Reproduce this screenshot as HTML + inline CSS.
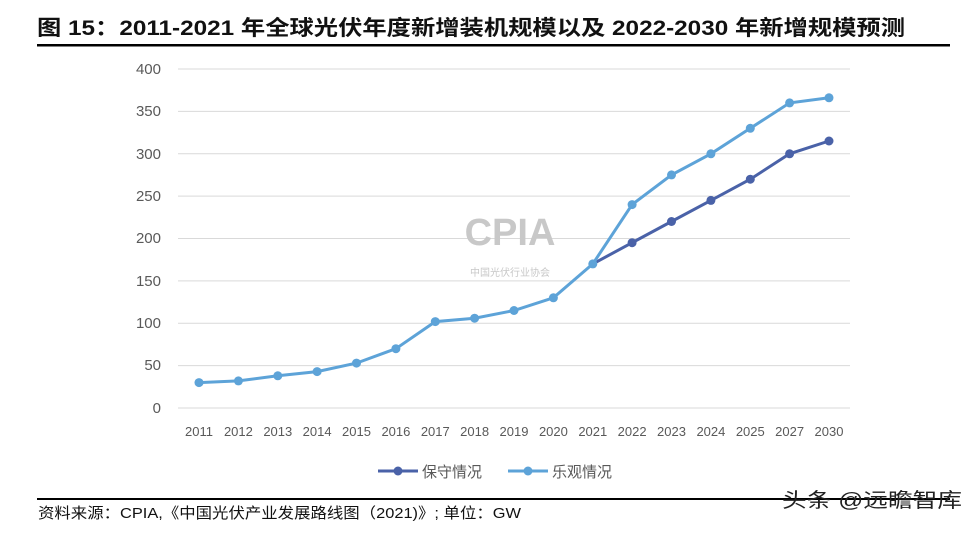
<!DOCTYPE html><html><head><meta charset="utf-8"><style>body{margin:0;background:#fff;width:975px;height:530px;overflow:hidden;font-family:"Liberation Sans","Noto Sans CJK SC",sans-serif}</style></head><body>
<svg width="975" height="530" xmlns="http://www.w3.org/2000/svg" font-family="Liberation Sans, Noto Sans CJK SC, sans-serif">
<text x="37" y="35" font-size="21" font-weight="bold" fill="#111" textLength="868" lengthAdjust="spacingAndGlyphs">图 15：2011-2021 年全球光伏年度新增装机规模以及  2022-2030  年新增规模预测</text>
<rect x="37" y="44" width="913" height="2.5" fill="#000"/>
<g stroke="#d9d9d9" stroke-width="1">
<line x1="178" x2="850" y1="69" y2="69"/><line x1="178" x2="850" y1="111.4" y2="111.4"/><line x1="178" x2="850" y1="153.8" y2="153.8"/><line x1="178" x2="850" y1="196.1" y2="196.1"/><line x1="178" x2="850" y1="238.5" y2="238.5"/><line x1="178" x2="850" y1="280.9" y2="280.9"/><line x1="178" x2="850" y1="323.3" y2="323.3"/><line x1="178" x2="850" y1="365.6" y2="365.6"/><line x1="178" x2="850" y1="408" y2="408"/>
</g>
<g font-size="15" fill="#595959" text-anchor="end">
<text x="161" y="74">400</text><text x="161" y="116">350</text><text x="161" y="159">300</text><text x="161" y="201">250</text><text x="161" y="243">200</text><text x="161" y="286">150</text><text x="161" y="328">100</text><text x="161" y="370">50</text><text x="161" y="413">0</text>
</g>
<g font-size="13" fill="#595959" text-anchor="middle">
<text x="199" y="436">2011</text><text x="238.4" y="436">2012</text><text x="277.8" y="436">2013</text><text x="317.1" y="436">2014</text><text x="356.5" y="436">2015</text><text x="395.9" y="436">2016</text><text x="435.3" y="436">2017</text><text x="474.6" y="436">2018</text><text x="514" y="436">2019</text><text x="553.4" y="436">2020</text><text x="592.8" y="436">2021</text><text x="632.1" y="436">2022</text><text x="671.5" y="436">2023</text><text x="710.9" y="436">2024</text><text x="750.3" y="436">2025</text><text x="789.6" y="436">2027</text><text x="829" y="436">2030</text>
</g>
<text x="510" y="245" font-size="38" font-weight="bold" fill="#c8c8c8" text-anchor="middle">CPIA</text>
<text x="510" y="276" font-size="10" fill="#c8c8c8" text-anchor="middle">中国光伏行业协会</text>
<polyline fill="none" stroke="#4a62a8" stroke-width="3" points="592.8,263.9 632.1,242.7 671.5,221.5 710.9,200.4 750.3,179.2 789.6,153.8 829,141.0"/>
<g fill="#4a62a8"><circle cx="632.1" cy="242.7" r="4.5"/><circle cx="671.5" cy="221.5" r="4.5"/><circle cx="710.9" cy="200.4" r="4.5"/><circle cx="750.3" cy="179.2" r="4.5"/><circle cx="789.6" cy="153.8" r="4.5"/><circle cx="829" cy="141.0" r="4.5"/></g>
<polyline fill="none" stroke="#5da3d8" stroke-width="3" points="199,382.6 238.4,380.9 277.8,375.8 317.1,371.6 356.5,363.1 395.9,348.7 435.3,321.6 474.6,318.2 514,310.5 553.4,297.8 592.8,263.9 632.1,204.6 671.5,174.9 710.9,153.8 750.3,128.3 789.6,102.9 829,97.8"/>
<g fill="#5da3d8"><circle cx="199" cy="382.6" r="4.5"/><circle cx="238.4" cy="380.9" r="4.5"/><circle cx="277.8" cy="375.8" r="4.5"/><circle cx="317.1" cy="371.6" r="4.5"/><circle cx="356.5" cy="363.1" r="4.5"/><circle cx="395.9" cy="348.7" r="4.5"/><circle cx="435.3" cy="321.6" r="4.5"/><circle cx="474.6" cy="318.2" r="4.5"/><circle cx="514" cy="310.5" r="4.5"/><circle cx="553.4" cy="297.8" r="4.5"/><circle cx="592.8" cy="263.9" r="4.5"/><circle cx="632.1" cy="204.6" r="4.5"/><circle cx="671.5" cy="174.9" r="4.5"/><circle cx="710.9" cy="153.8" r="4.5"/><circle cx="750.3" cy="128.3" r="4.5"/><circle cx="789.6" cy="102.9" r="4.5"/><circle cx="829" cy="97.8" r="4.5"/></g>
<line x1="378" x2="418" y1="471" y2="471" stroke="#4a62a8" stroke-width="3"/><circle cx="398" cy="471" r="4.5" fill="#4a62a8"/>
<text x="422" y="477" font-size="15" fill="#595959">保守情况</text>
<line x1="508" x2="548" y1="471" y2="471" stroke="#5da3d8" stroke-width="3"/><circle cx="528" cy="471" r="4.5" fill="#5da3d8"/>
<text x="552" y="477" font-size="15" fill="#595959">乐观情况</text>
<rect x="37" y="498" width="913" height="2" fill="#000"/>
<text x="38" y="518" font-size="15" fill="#111" textLength="483" lengthAdjust="spacingAndGlyphs">资料来源：CPIA,《中国光伏产业发展路线图（2021)》; 单位：GW</text>
<text x="782" y="507" font-size="20" fill="#222" textLength="180" lengthAdjust="spacingAndGlyphs">头条 @远瞻智库</text>
</svg></body></html>
